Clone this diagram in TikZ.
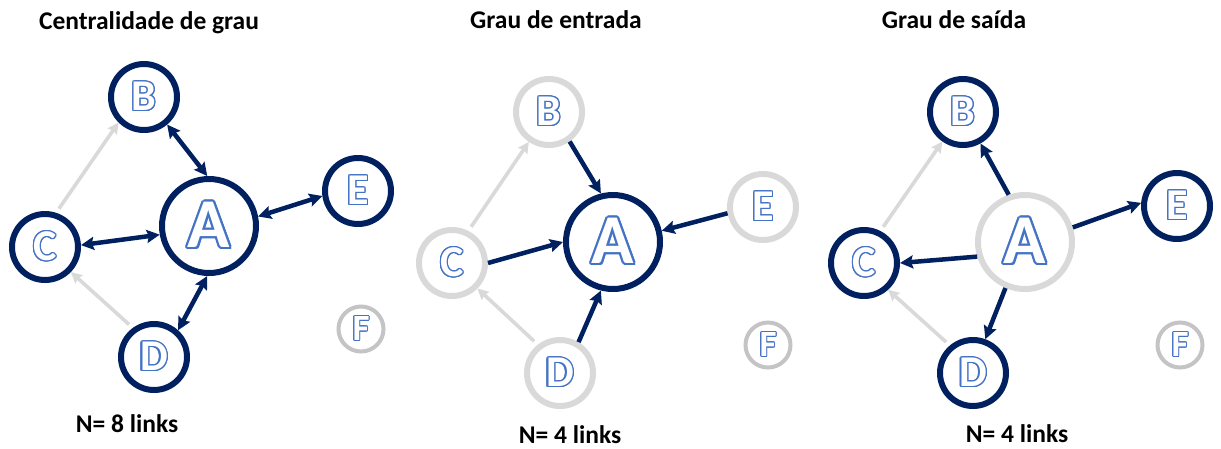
\documentclass[tikz,border=0pt]{standalone}
\usepackage{fontspec}
\setmainfont{Carlito}
\usepackage{xcolor}
\usepackage{contour}
\usetikzlibrary{arrows.meta}

\definecolor{navy}{RGB}{0,32,96}
\definecolor{ringgray}{RGB}{217,217,217}
\definecolor{lonegray}{RGB}{196,196,198}
\definecolor{letterblue}{RGB}{68,114,196}
\contourlength{0.028em}
\newcommand{\hollow}[1]{\contour{letterblue}{\textcolor{white}{#1}}}

\tikzset{
	on/.style={draw=navy,line width=6pt,circle,inner sep=0pt,minimum size=66pt,font=\bfseries\fontsize{44}{44}\selectfont},
	off/.style={on,draw=ringgray},
	hub/.style={minimum size=94pt,font=\bfseries\fontsize{70}{70}\selectfont},
	lone/.style={draw=lonegray,line width=4pt,circle,inner sep=0pt,minimum size=45pt,font=\bfseries\fontsize{37}{37}\selectfont},
	link/.style={navy,line width=4.5pt,-{Stealth[length=13pt,width=13pt,inset=2pt]}},
	twoway/.style={link,{Stealth[length=13pt,width=13pt,inset=2pt]}-{Stealth[length=13pt,width=13pt,inset=2pt]}},
	faint/.style={ringgray,line width=3.6pt,-{Stealth[length=11pt,width=11pt,inset=1.5pt]},shorten <=5pt},
	caption/.style={font=\bfseries\fontsize{25.5}{25.5}\selectfont,anchor=base}
}

\begin{document}
\begin{tikzpicture}[x=1pt,y=-1pt]
	\useasboundingbox (0,0) rectangle (1221,448);

	% Centralidade de grau
	\node[caption] (t1) at (149,29) {Centralidade de grau};
	\node[on,hub] (A1) at (209,226) {\hollow{A}};
	\node[on] (B1) at (144,97) {\hollow{B}};
	\node[on] (C1) at (45,247) {\hollow{C}};
	\node[on] (D1) at (154,357) {\hollow{D}};
	\node[on] (E1) at (358,191) {\hollow{E}};
	\node[lone] (F1) at (361,329) {\hollow{F}};
	\node[caption] (n1) at (127,432) {N= 8 links};

	\draw[faint] (C1.72)--(B1.225);
	\draw[faint] (D1.126)--(C1.-44);
	\draw[twoway] (B1.-50)--(A1.92);
	\draw[twoway] (A1.11)--(E1.188);
	\draw[twoway] (C1.3)--(A1.190);
	\draw[twoway] (D1.48)--(A1.268);

	% Grau de entrada
	\node[caption] (t2) at (556,28) {Grau de entrada};
	\node[on,hub] (A2) at (613,242) {\hollow{A}};
	\node[off] (B2) at (549,112) {\hollow{B}};
	\node[off] (C2) at (452,263) {\hollow{C}};
	\node[off] (D2) at (560,373) {\hollow{D}};
	\node[off] (E2) at (763,207) {\hollow{E}};
	\node[lone] (F2) at (768,345) {\hollow{F}};
	\node[caption] (n2) at (570,443) {N= 4 links};

	\draw[faint] (C2.63)--(B2.236);
	\draw[faint] (D2.128)--(C2.-45);
	\draw[link] (B2.-55)--(A2.104);
	\draw[link] (E2.190)--(A2.13);
	\draw[link] (C2.0)--(A2.180);
	\draw[link] (D2.59)--(A2.256);

	% Grau de saida
	\node[caption] (t3) at (954,28) {Grau de saída};
	\node[off,hub] (A3) at (1025,242) {\hollow{A}};
	\node[on] (B3) at (963,112) {\hollow{B}};
	\node[on] (C3) at (864,263) {\hollow{C}};
	\node[on] (D3) at (973,373) {\hollow{D}};
	\node[on] (E3) at (1177,206) {\hollow{E}};
	\node[lone] (F3) at (1180,345) {\hollow{F}};
	\node[caption] (n3) at (1017,442) {N= 4 links};

	\draw[faint] (C3.63)--(B3.235);
	\draw[faint] (D3.130)--(C3.-48);
	\draw[link] (A3.109)--(B3.-61);
	\draw[link] (A3.17)--(E3.175);
	\draw[link] (A3.197)--(C3.0);
	\draw[link] (A3.247)--(D3.70);
\end{tikzpicture}
\end{document}
